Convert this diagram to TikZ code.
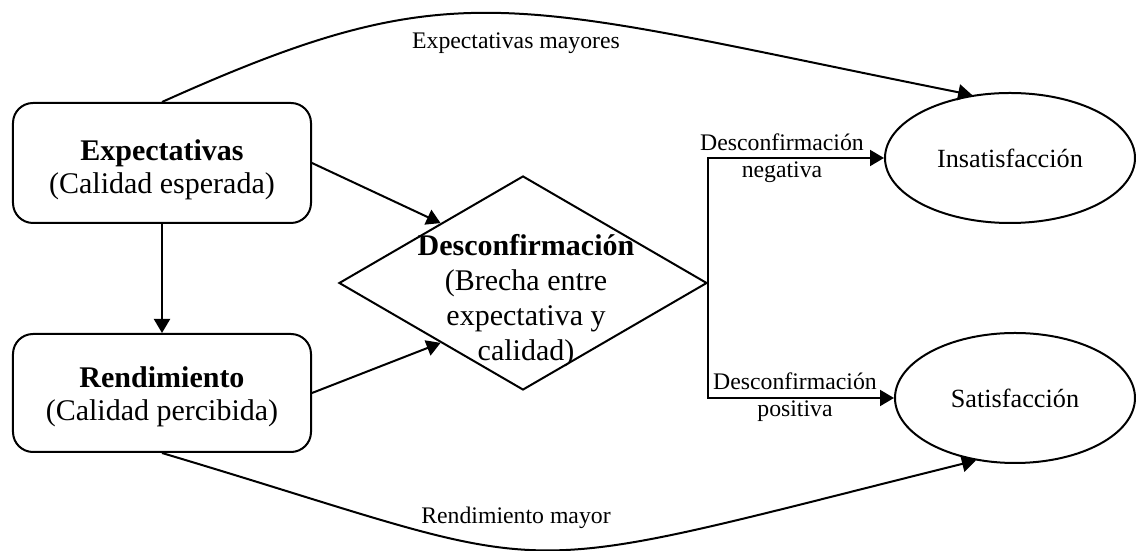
\documentclass[tikz,border=0pt]{standalone}
\usepackage{fontspec}
\setmainfont{Liberation Serif}
\usetikzlibrary{arrows.meta,positioning,shapes.geometric}
\tikzset{>={Triangle[length=5.6pt,width=6.4pt]}}

\begin{document}
\begin{tikzpicture}[x=0.4pt,y=-0.4pt,node distance=43.6pt,line width=0.8pt,
   box/.style={draw,rectangle,rounded corners=8pt,minimum width=119.2pt,minimum height=48pt,align=center,font=\fontsize{12}{13.4}\selectfont},
   oval/.style={draw,ellipse,minimum height=52pt,inner sep=0pt,font=\fontsize{10.5}{12}\selectfont},
   lbl/.style={align=center,font=\fontsize{9.5}{11}\selectfont}]
   \useasboundingbox (0,0) rectangle (1136,551);
   \node[box] (1) at (162,163) {\rule{0pt}{13.7pt}\textbf{Expectativas}\\(Calidad esperada)};
   \node[box,minimum height=47.2pt] (2) [below=of 1] {\rule{0pt}{11.4pt}\textbf{Rendimiento}\\(Calidad percibida)};
   \node[draw,diamond,minimum width=147.2pt,minimum height=85.6pt,inner sep=0pt] (3) at (523,283) {};
   \node[align=center,font=\fontsize{12}{14}\selectfont] (4) at (526,301) {\textbf{Desconfirmación}\\(Brecha entre\\expectativa y\\calidad)};
   \node[oval,minimum width=100pt] (5) at (1010,158) {Insatisfacción};
   \node[oval,minimum width=96pt] (6) at (1015,398) {Satisfacción};
   \node[lbl] (7) at (782,158) {Desconfirmación\\negativa};
   \node[lbl] (8) at (795,397) {Desconfirmación\\positiva};
   \node[lbl] (9) at (516,43) {Expectativas mayores};
   \node[lbl] (10) at (516,518) {Rendimiento mayor};
    \path[->] (1) edge (2);
    \path[->] (1.east) edge (3.144);
    \path[->] (2.east) edge (3.216);
    \draw[->] (3.east) |- (5.west);
    \draw[->] (3.east) |- (6.west);
    \draw[->] (1.north) .. controls (460,-32) and (507,2) .. (5.121);
    \draw[->] (2.south) .. controls (581,578) and (480,584) .. (6.238);
\end{tikzpicture}
\end{document}
